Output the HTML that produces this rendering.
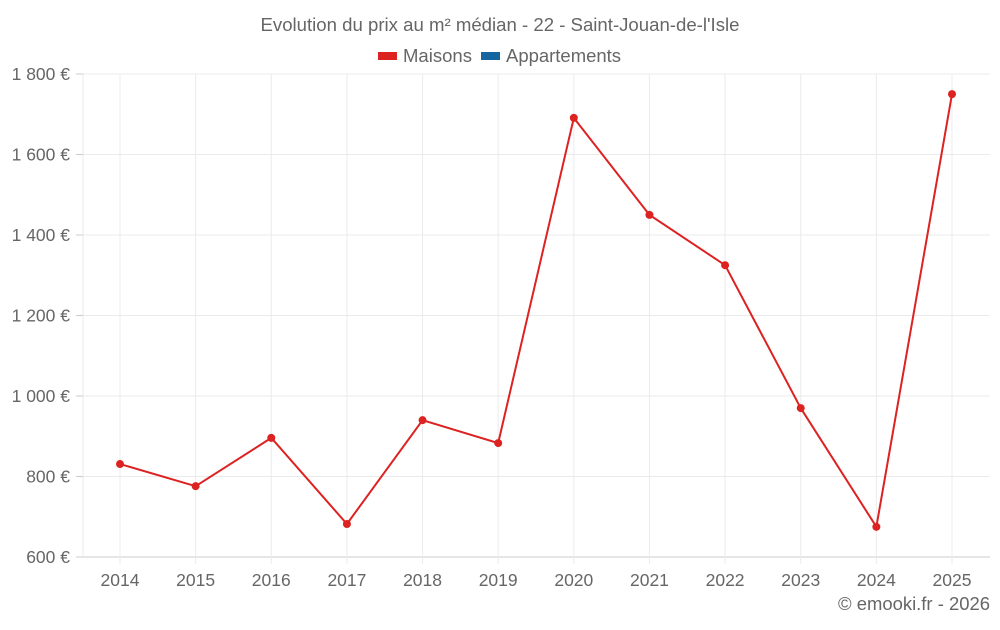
<!DOCTYPE html>
<html><head><meta charset="utf-8"><style>
body{margin:0;background:#fff;}
svg text{font-family:"Liberation Sans",sans-serif;fill:#666;}
</style></head><body>
<svg id="chart" width="1000" height="625" xmlns="http://www.w3.org/2000/svg">
<text x="500" y="31" text-anchor="middle" font-size="18" textLength="479" lengthAdjust="spacingAndGlyphs">Evolution du prix au m² médian - 22 - Saint-Jouan-de-l'Isle</text>
<g>
<g><rect x="378" y="52" width="19" height="8" fill="#dd2222"/><text x="403" y="62" font-size="18" textLength="69" lengthAdjust="spacingAndGlyphs">Maisons</text></g>
<g><rect x="481" y="52" width="19" height="8" fill="#1565a0"/><text x="506" y="62" font-size="18" textLength="115" lengthAdjust="spacingAndGlyphs">Appartements</text></g>
</g>
<g id="grid"></g>
<g id="axes"></g>
<g id="series"></g>
<text x="990" y="610" text-anchor="end" font-size="18" textLength="152" lengthAdjust="spacingAndGlyphs">© emooki.fr - 2026</text>
</svg>
<script>
const years=["2014","2015","2016","2017","2018","2019","2020","2021","2022","2023","2024","2025"];
const maisons=[831,776,896,682,940,883,1691,1450,1325,970,675,1750];
const yTicks=[600,800,1000,1200,1400,1600,1800];
const yTickLabels=["600 €","800 €","1 000 €","1 200 €","1 400 €","1 600 €","1 800 €"];
const NS="http://www.w3.org/2000/svg";
const L=83,R=990,T=74,B=557;
const x=i=>120+i*(952-120)/(years.length-1);
const y=v=>B-(v-600)/(1800-600)*(B-T);
function mk(t,a,p){const e=document.createElementNS(NS,t);for(const k in a)e.setAttribute(k,a[k]);p.appendChild(e);return e;}
const g=document.getElementById('grid'),ax=document.getElementById('axes'),s=document.getElementById('series');
yTicks.forEach((v,i)=>{
 const l=mk('line',{x1:L,x2:R,y1:y(v),y2:y(v),stroke:i==0?'#ccc':'#ebebeb','stroke-width':1},g);
 
 
 const tk=mk('line',{x1:76,x2:L,y1:y(v),y2:y(v),stroke:'#ccc'},ax);
 
 
 const t=mk('text',{x:70,y:y(v)+6,'text-anchor':'end','font-size':17.5},ax);
 t.textContent=yTickLabels[i];
 
 
});
mk('line',{x1:L,x2:L,y1:T,y2:B,stroke:'#ebebeb'},g);
years.forEach((yr,i)=>{
 const l=mk('line',{x1:x(i),x2:x(i),y1:T,y2:B+7,stroke:'#ebebeb'},g);
 
 
 const t=mk('text',{x:x(i),y:586,'text-anchor':'middle','font-size':17.5},ax);
 t.textContent=yr;
 
 
});
const p=mk('polyline',{points:maisons.map((v,i)=>x(i)+','+y(v)).join(' '),fill:'none',stroke:'#dd2222','stroke-width':2},s);


maisons.forEach((v,i)=>{
 const c=mk('circle',{cx:x(i),cy:y(v),r:4,fill:'#dd2222'},s);
 
 
});
</script>
</body></html>
